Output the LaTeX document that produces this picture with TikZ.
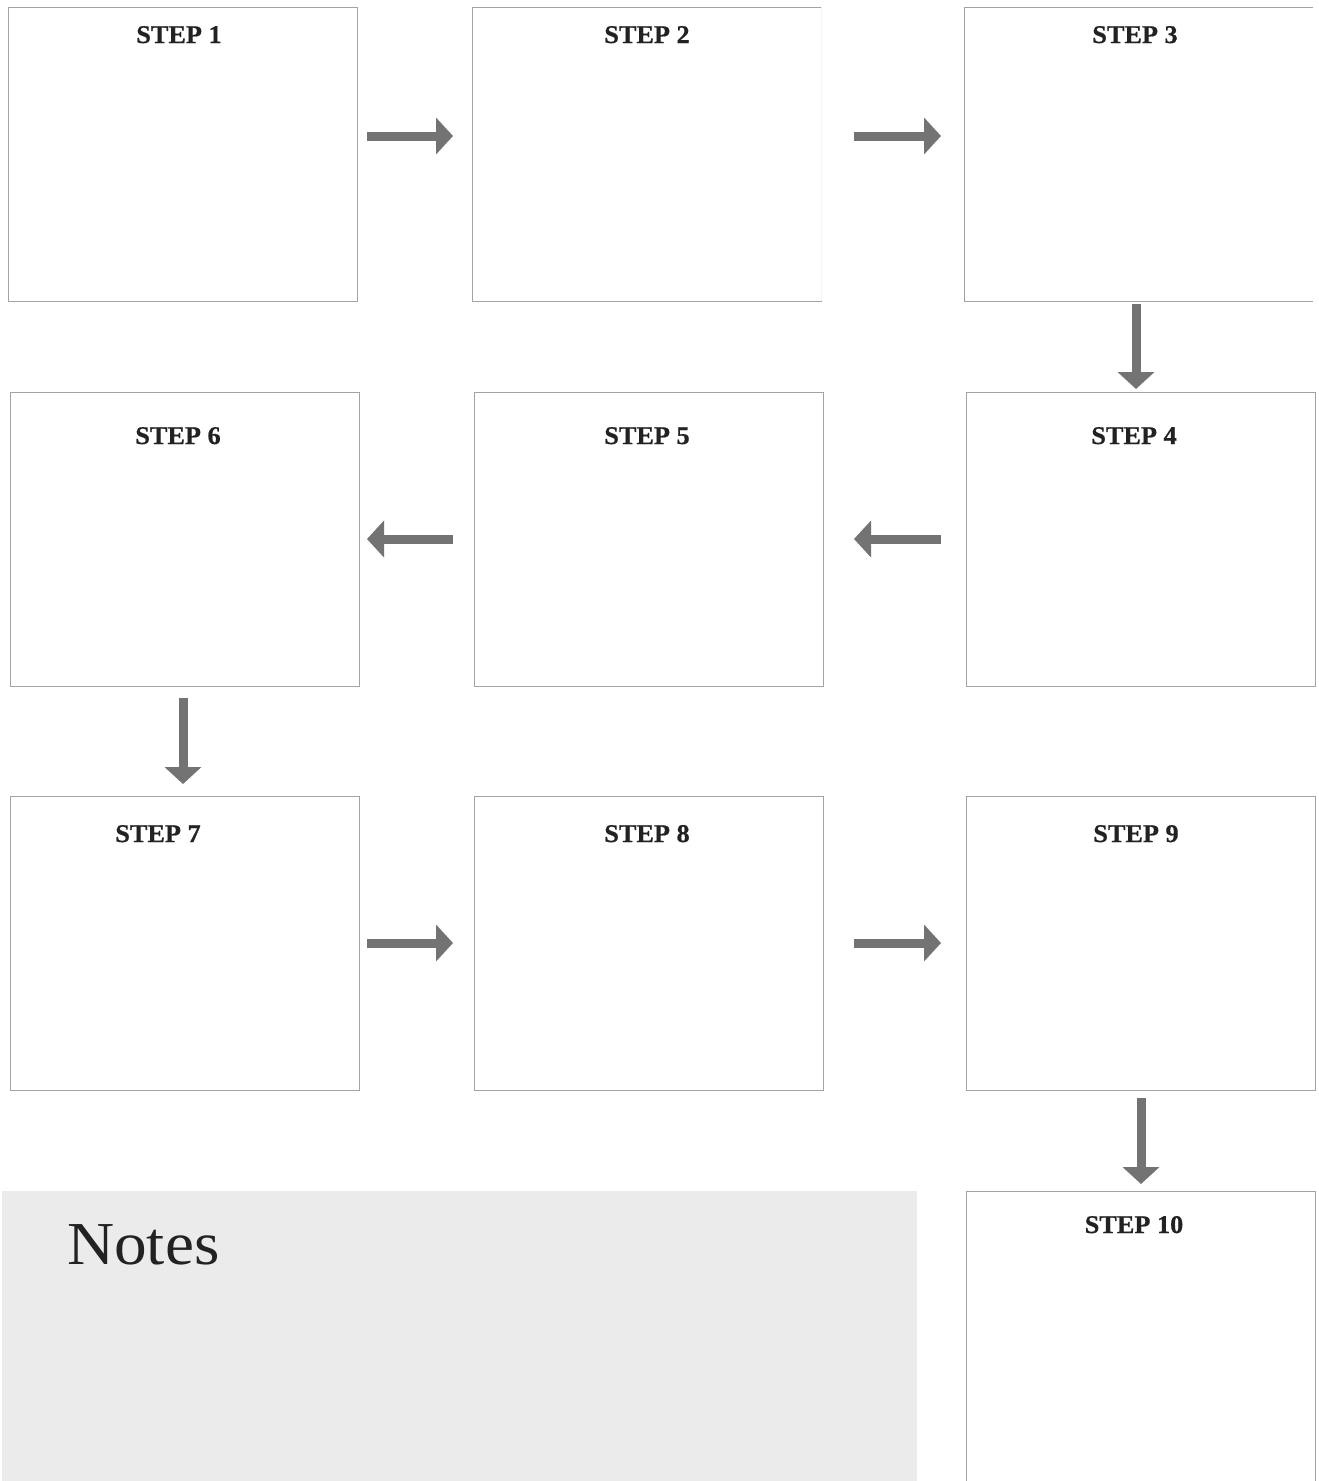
\documentclass[tikz,border=0pt]{standalone}
\usepackage{fontspec}
\setmainfont{Liberation Serif}
\newfontfamily\notesfont[FakeStretch=1.07]{Liberation Serif}
\newfontfamily\labelfont[FakeStretch=1.03,FakeBold=0.6]{Liberation Serif Bold}
\usetikzlibrary{arrows.meta}
\definecolor{boxline}{HTML}{A3A3A3}
\definecolor{arrowgray}{HTML}{737373}
\definecolor{notesbg}{HTML}{EBEBEB}
\definecolor{labeltext}{HTML}{222222}
\begin{document}
\begin{tikzpicture}[x=1pt,y=-1pt,
  stepbox/.style={draw=boxline,line width=1pt,fill=white,minimum width=349pt,minimum height=294pt,inner sep=0pt,outer sep=0pt,anchor=north west},
  openbox/.style={stepbox,draw=none},
  steplabel/.style={anchor=base,inner sep=0pt,text=labeltext,font=\fontsize{25.5}{28}\labelfont},
  arr/.style={draw=arrowgray,line width=9pt,-{Triangle[width=36pt,length=17pt]}}
]
\useasboundingbox (0,0) rectangle (1319,1481);
\fill[white] (0,0) rectangle (1319,1481);
% boxes
\node[stepbox] (b1) at (8,7) {};
\node[stepbox] (b2) at (472,7) {};
\node[openbox] (b3) at (964,7) {};
\draw[boxline,line width=1pt] (b3.north east) -- (b3.north west) -- (b3.south west) -- (b3.south east);
\draw[white!88!boxline,line width=1pt] (b2.north east) -- (b2.south east);
\node[stepbox] (b6) at (10,392) {};
\node[stepbox] (b5) at (474,392) {};
\node[stepbox] (b4) at (966,392) {};
\node[stepbox] (b7) at (10,796) {};
\node[stepbox] (b8) at (474,796) {};
\node[stepbox] (b9) at (966,796) {};
\node[stepbox] (b10) at (966,1191) {};
% notes panel
\node[fill=notesbg,draw=none,inner sep=0pt,minimum width=915pt,minimum height=290pt,anchor=north west] (notes) at (2,1191) {};
\node[anchor=base west,inner sep=0pt,text=labeltext,font=\fontsize{61}{70}\notesfont] (notestitle) at (67,1264) {Notes};
% labels
\node[steplabel] (t1) at (179,43) {STEP 1};
\node[steplabel] (t2) at (647,43) {STEP 2};
\node[steplabel] (t3) at (1135,43) {STEP 3};
\node[steplabel] (t6) at (178,444) {STEP 6};
\node[steplabel] (t5) at (647,444) {STEP 5};
\node[steplabel] (t4) at (1134,444) {STEP 4};
\node[steplabel] (t7) at (158,842) {STEP 7};
\node[steplabel] (t8) at (647,842) {STEP 8};
\node[steplabel] (t9) at (1136,842) {STEP 9};
\node[steplabel] (t10) at (1134,1233) {STEP 10};
% connectors row 1
\draw[arr] ([shift={(10pt,18pt)}]b1.east) -- ([shift={(-19pt,18pt)}]b2.west);
\draw[arr] ([shift={(33pt,18pt)}]b2.east) -- ([shift={(-23pt,18pt)}]b3.west);
\draw[arr] ([shift={(-2.5pt,-3pt)}]b3.south) -- ([shift={(-4.5pt,3pt)}]b4.north);
% row 2
\draw[arr] ([xshift=-25pt]b4.west) -- ([xshift=31pt]b5.east);
\draw[arr] ([xshift=-21pt]b5.west) -- ([xshift=8pt]b6.east);
\draw[arr] ([shift={(-1.5pt,-12pt)}]b6.south) -- ([shift={(-1.5pt,12pt)}]b7.north);
% row 3
\draw[arr] ([xshift=8pt]b7.east) -- ([xshift=-21pt]b8.west);
\draw[arr] ([xshift=31pt]b8.east) -- ([xshift=-25pt]b9.west);
\draw[arr] ([shift={(0.5pt,-8pt)}]b9.south) -- ([shift={(0.5pt,7pt)}]b10.north);
\end{tikzpicture}
\end{document}
